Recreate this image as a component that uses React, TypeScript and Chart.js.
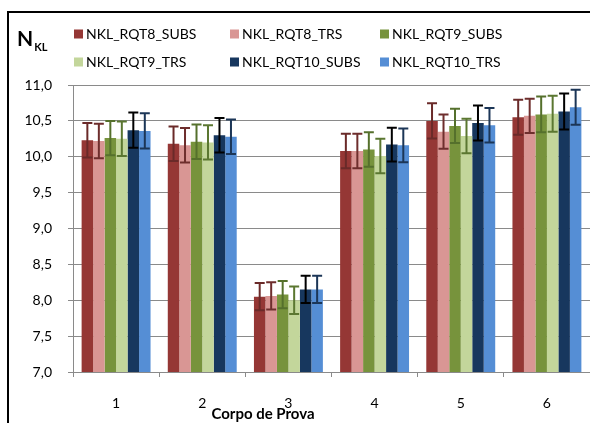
import React, { useEffect, useRef } from "react";
import { Chart, registerables } from "chart.js";

Chart.register(...registerables);

const categories = ["1", "2", "3", "4", "5", "6"];
const seriesNames = ["NKL_RQT8_SUBS", "NKL_RQT8_TRS", "NKL_RQT9_SUBS", "NKL_RQT9_TRS", "NKL_RQT10_SUBS", "NKL_RQT10_TRS"];
const rqt8Subs = [10.23, 10.18, 8.05, 10.08, 10.5, 10.55];
const rqt8Trs = [10.22, 10.16, 8.06, 10.08, 10.35, 10.57];
const rqt9Subs = [10.26, 10.21, 8.08, 10.1, 10.43, 10.59];
const rqt9Trs = [10.25, 10.2, 8.0, 10.01, 10.29, 10.6];
const rqt10Subs = [10.37, 10.3, 8.15, 10.17, 10.47, 10.63];
const rqt10Trs = [10.36, 10.28, 8.15, 10.16, 10.44, 10.69];
const rqt8SubsErr = [0.24, 0.24, 0.19, 0.24, 0.245, 0.245];
const rqt8TrsErr = [0.24, 0.24, 0.19, 0.24, 0.24, 0.24];
const rqt9SubsErr = [0.24, 0.24, 0.19, 0.24, 0.24, 0.25];
const rqt9TrsErr = [0.24, 0.24, 0.19, 0.24, 0.24, 0.25];
const rqt10SubsErr = [0.245, 0.24, 0.19, 0.235, 0.245, 0.25];
const rqt10TrsErr = [0.245, 0.24, 0.19, 0.235, 0.24, 0.245];
const yTickValues = [7.0, 7.5, 8.0, 8.5, 9.0, 9.5, 10.0, 10.5, 11.0];

const barColors = ["#953735", "#D99694", "#77933C", "#C3D69B", "#17375E", "#558ED5"];
const errColors = ["#6a2a29", "#6e2e2d", "#55702c", "#5b7731", "#000000", "#1c3657"];

const FONT = "Lato, 'Open Sans', sans-serif";

const decorPlugin = {
  id: "decor",
  afterDatasetsDraw(chart: any) {
    const ctx = chart.ctx;
    const y = chart.scales.y;
    ctx.save();
    chart.data.datasets.forEach((ds: any, di: number) => {
      const meta = chart.getDatasetMeta(di);
      meta.data.forEach((bar: any, i: number) => {
        const v = ds.data[i];
        const e = ds.errors[i];
        const yt = y.getPixelForValue(v + e);
        const yb = y.getPixelForValue(v - e);
        const x = bar.x;
        const hw = 5;
        ctx.strokeStyle = ds.errColor;
        ctx.lineWidth = 2;
        ctx.beginPath();
        ctx.moveTo(x, yt);
        ctx.lineTo(x, yb);
        ctx.moveTo(x - hw, yt);
        ctx.lineTo(x + hw, yt);
        ctx.moveTo(x - hw, yb);
        ctx.lineTo(x + hw, yb);
        ctx.stroke();
      });
    });
    ctx.restore();
  },
  afterDraw(chart: any) {
    const ctx = chart.ctx;
    ctx.save();
    // outer frame
    ctx.strokeStyle = "#000";
    ctx.lineWidth = 2;
    ctx.strokeRect(8, 12, 600, 430);
    // N_KL label
    ctx.fillStyle = "#000";
    ctx.textBaseline = "alphabetic";
    ctx.textAlign = "left";
    ctx.font = `bold 21px ${FONT}`;
    ctx.fillText("N", 17, 46);
    const nw = ctx.measureText("N").width;
    ctx.font = `bold 11px ${FONT}`;
    ctx.fillText("KL", 17 + nw + 1, 51);
    // legend
    const colX = [74, 230, 380];
    const rowY = [34, 62];
    ctx.font = `14px ${FONT}`;
    ctx.textBaseline = "middle";
    chart.data.datasets.forEach((ds: any, i: number) => {
      const cx = colX[i % 3];
      const cy = rowY[Math.floor(i / 3)];
      ctx.fillStyle = ds.backgroundColor;
      ctx.fillRect(cx, cy - 4.5, 9, 9);
      ctx.fillStyle = "#000";
      ctx.fillText(ds.label, cx + 12, cy + 0.5);
    });
    // x axis title
    ctx.font = `bold 15px ${FONT}`;
    ctx.textAlign = "center";
    ctx.textBaseline = "alphabetic";
    ctx.fillText("Corpo de Prova", 263, 419);
    ctx.restore();
  },
};

export default function App() {
  const ref = useRef<HTMLCanvasElement>(null);
  useEffect(() => {
    const values = [rqt8Subs, rqt8Trs, rqt9Subs, rqt9Trs, rqt10Subs, rqt10Trs];
    const errs = [rqt8SubsErr, rqt8TrsErr, rqt9SubsErr, rqt9TrsErr, rqt10SubsErr, rqt10TrsErr];
    const chart = new Chart(ref.current!, {
      type: "bar",
      data: {
        labels: categories,
        datasets: seriesNames.map((name, i) => ({
          label: name,
          data: values[i],
          errors: errs[i],
          errColor: errColors[i],
          backgroundColor: barColors[i],
          borderWidth: 0,
          categoryPercentage: 0.8,
          barPercentage: 1.0,
        })) as any,
      },
      options: {
        animation: false,
        responsive: false,
        layout: { padding: { top: 85, left: 0, right: 0, bottom: 0 } },
        plugins: { legend: { display: false }, tooltip: { enabled: false } },
        scales: {
          x: {
            grid: {
              offset: true,
              drawOnChartArea: false,
              drawTicks: true,
              tickLength: 5,
              color: "#8a8a8a",
              lineWidth: 1,
            },
            border: { color: "#8a8a8a", width: 1 },
            ticks: { color: "#000", font: { family: FONT, size: 14 }, padding: 18 },
            afterFit(scale: any) {
              scale.height = 51;
            },
          },
          y: {
            min: 7,
            max: 11,
            afterBuildTicks(scale: any) {
              scale.ticks = yTickValues.map((v) => ({ value: v }));
            },
            grid: { color: "#8a8a8a", lineWidth: 1, tickLength: 5 },
            border: { color: "#8a8a8a", width: 1 },
            ticks: {
              color: "#000",
              font: { family: FONT, size: 14 },
              padding: 16,
              callback: (v: any) => Number(v).toFixed(1).replace(".", ","),
            },
            afterFit(scale: any) {
              scale.width = 73;
            },
          },
        },
      },
      plugins: [decorPlugin],
    });
    return () => chart.destroy();
  }, []);
  return (
    <div style={{ position: "fixed", left: 0, top: 0, width: 590, height: 423, background: "#fff" }}>
      <canvas ref={ref} width={590} height={423} />
    </div>
  );
}
